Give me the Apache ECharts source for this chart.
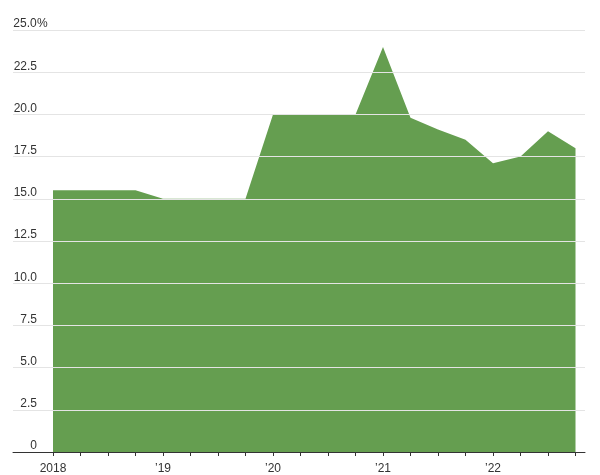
<!DOCTYPE html>
<html><head><meta charset="utf-8">
<script src="https://cdn.jsdelivr.net/npm/echarts@6/dist/echarts.min.js"></script>
<style>html,body{margin:0;padding:0;background:#fff}#c{width:600px;height:475px}</style>
</head><body><div id="c"></div>
<script>
var quarters = ['2018 Q1','2018 Q2','2018 Q3','2018 Q4','2019 Q1','2019 Q2','2019 Q3','2019 Q4','2020 Q1','2020 Q2','2020 Q3','2020 Q4','2021 Q1','2021 Q2','2021 Q3','2021 Q4','2022 Q1','2022 Q2','2022 Q3','2022 Q4'];
var rates = [15.5,15.5,15.5,15.5,15.0,15.0,15.0,15.0,20.0,20.0,20.0,20.0,24.0,19.8,19.1,18.5,17.1,17.5,19.0,18.0];
var yearLabels = ['2018','\u201919','\u201920','\u201921','\u201922'];
var yTicks = ['0','2.5','5.0','7.5','10.0','12.5','15.0','17.5','20.0','22.5','25.0'];

var FONT = '"Liberation Sans",Arial,sans-serif';
var chart = echarts.init(document.getElementById('c'), null, {renderer:'canvas'});
chart.setOption({
  animation:false,
  grid:[
    {left:13, right:15, top:30, bottom:23},
    {left:53, right:24.5, top:30, bottom:23}
  ],
  xAxis:[
    {gridIndex:0, type:'value', min:0, max:1, show:true,
     axisLine:{show:true, lineStyle:{color:'#333', width:1}},
     axisTick:{show:false}, axisLabel:{show:false}, splitLine:{show:false}, z:6},
    {gridIndex:1, type:'category', data:quarters, boundaryGap:false,
     axisLine:{show:false},
     axisTick:{show:true, interval:0, length:4, inside:false, lineStyle:{color:'#333'}},
     axisLabel:{interval:3, margin:11, color:'#333', fontSize:12, fontFamily:FONT,
       formatter:function(v, i){ return yearLabels[i/4]; }},
     splitLine:{show:false}, z:6}
  ],
  yAxis:[
    {gridIndex:0, type:'value', min:0, max:25, interval:2.5, z:5,
     axisLine:{show:false}, axisTick:{show:false},
     splitLine:{show:true, lineStyle:{color:'#e4e4e4', width:1.2}},
     axisLabel:{inside:true, margin:0, align:'left', verticalAlign:'bottom', padding:[0,0,0,0],
       color:'#333', fontSize:12, fontFamily:FONT,
       formatter:function(v){
         var i = Math.round(v/2.5);
         if (i === yTicks.length-1) return '{n|' + yTicks[i] + '}{p|%}';
         return '{n|' + yTicks[i] + '}';
       },
       rich:{
         n:{color:'#333', fontSize:12, fontFamily:FONT, width:24, align:'right'},
         p:{color:'#333', fontSize:12, fontFamily:FONT}
       }}},
    {gridIndex:1, type:'value', min:0, max:25, show:false, splitLine:{show:false}}
  ],
  series:[{
    type:'line', xAxisIndex:1, yAxisIndex:1, data:rates,
    symbol:'none', z:2,
    lineStyle:{width:0, color:'#659e50'},
    areaStyle:{color:'#659e50', opacity:1}
  }]
});
</script></body></html>
